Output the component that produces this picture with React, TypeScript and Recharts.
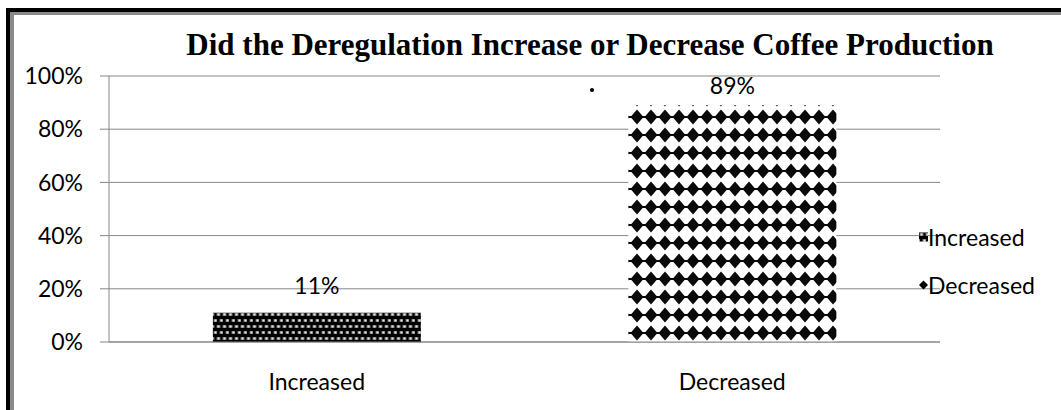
import React from "react";
import {
  Bar,
  BarChart,
  CartesianGrid,
  LabelList,
  XAxis,
  YAxis,
} from "recharts";

const categories = ["Increased", "Decreased"];
const seriesNames = ["Increased", "Decreased"];
const increasedValues = [11, null];
const decreasedValues = [null, 89];
const percentTicks = [0, 20, 40, 60, 80, 100];

const data = categories.map((name, i) => ({
  name,
  Increased: increasedValues[i],
  Decreased: decreasedValues[i],
}));

const GRID = "#868686";
const SANS = "Lato, 'Open Sans', sans-serif";

function Patterns({ prefix }: { prefix: string }) {
  return (
    <defs>
      <pattern id={`${prefix}-checker`} width="6" height="12" patternUnits="userSpaceOnUse">
        <rect width="6" height="12" fill="#000" />
        <rect x="0.5" y="1" width="4" height="3" fill="#6a6a6a" />
        <rect x="1.5" y="1.5" width="2" height="2" fill="#e6e6e6" />
        <rect x="3.5" y="7" width="3" height="3" fill="#6a6a6a" />
        <rect x="0" y="7" width="1" height="3" fill="#6a6a6a" />
        <rect x="4.5" y="7.5" width="1.5" height="2" fill="#e6e6e6" />
        <rect x="0" y="7.5" width="0.5" height="2" fill="#e6e6e6" />
      </pattern>
      <pattern id={`${prefix}-diamond`} width="14" height="18" patternUnits="userSpaceOnUse">
        <rect width="14" height="18" fill="#fff" />
        <polygon points="7,1.5 13.5,9 7,16.5 0.5,9" fill="#0a0a0a" />
        <rect x="0" y="8" width="14" height="2" fill="#0a0a0a" />
      </pattern>
    </defs>
  );
}

// value above the bar, kept clear of the title band
function valueLabel(props: any) {
  const { x, y, width, value } = props;
  if (value === null || value === undefined) return null;
  return (
    <text
      x={x + width / 2}
      y={Math.max(y - 19, 94)}
      textAnchor="middle"
      fontFamily={SANS}
      fontSize={23}
      fill="#000"
    >
      {`${value}%`}
    </text>
  );
}

function SeriesKey() {
  return (
    <div
      style={{
        position: "absolute",
        left: 919,
        top: 213,
        fontFamily: SANS,
        fontSize: 23,
        color: "#000",
      }}
    >
      <svg width="0" height="0" style={{ position: "absolute" }}>
        <Patterns prefix="lg" />
      </svg>
      {seriesNames.map((name) => (
        <div
          key={name}
          style={{ display: "flex", alignItems: "center", height: 48, lineHeight: "48px" }}
        >
          <svg width="9" height="10">
            {name === "Increased" ? (
              <rect width="9" height="9" y="0.5" fill="url(#lg-checker)" />
            ) : (
              <polygon points="4.5,0.5 9,5 4.5,9.5 0,5" fill="#000" />
            )}
          </svg>
          <span>{name}</span>
        </div>
      ))}
    </div>
  );
}

export default function App() {
  return (
    <div
      style={{
        position: "absolute",
        left: 0,
        top: 0,
        width: 1061,
        height: 410,
        background: "#fff",
        overflow: "hidden",
      }}
    >
      <BarChart
        width={1061}
        height={410}
        data={data}
        margin={{ top: 76, right: 121, bottom: 10, left: 0 }}
        barCategoryGap="25%"
        style={{ position: "absolute", left: 0, top: 0 }}
      >
        <Patterns prefix="bar" />
        <CartesianGrid vertical={false} stroke={GRID} strokeWidth={1} />
        <XAxis
          dataKey="name"
          axisLine={{ stroke: GRID }}
          tickLine={false}
          tickMargin={26}
          height={58}
          tick={{ fill: "#000", fontFamily: SANS, fontSize: 23 }}
        />
        <XAxis
          xAxisId="edges"
          type="number"
          domain={[0, 2]}
          ticks={[0, 1, 2]}
          tick={false}
          axisLine={false}
          tickLine={{ stroke: GRID }}
          tickSize={9}
          height={0}
        />
        <YAxis
          width={109}
          domain={[0, 100]}
          ticks={percentTicks}
          tickFormatter={(v: number) => `${v}%`}
          axisLine={{ stroke: GRID }}
          tickLine={{ stroke: GRID }}
          tickSize={9}
          tickMargin={17}
          tick={{ fill: "#000", fontFamily: SANS, fontSize: 23 }}
        />
        <Bar dataKey="Increased" stackId="s" fill="url(#bar-checker)" isAnimationActive={false}>
          <LabelList dataKey="Increased" content={valueLabel} />
        </Bar>
        <Bar dataKey="Decreased" stackId="s" fill="url(#bar-diamond)" isAnimationActive={false}>
          <LabelList dataKey="Decreased" content={valueLabel} />
        </Bar>
        <circle cx={592} cy={90} r={2} fill="#000" />
      </BarChart>

      <SeriesKey />

      <div
        style={{
          position: "absolute",
          left: 0,
          top: 25,
          width: 1180,
          textAlign: "center",
          fontFamily: "'Liberation Serif', 'Times New Roman', serif",
          fontWeight: "bold",
          fontSize: 31,
          lineHeight: "40px",
          color: "#000",
          whiteSpace: "nowrap",
        }}
      >
        Did the Deregulation Increase or Decrease Coffee Production
      </div>

      {/* frame edges */}
      <div style={{ position: "absolute", left: 6, top: 8, width: 4, height: 402, background: "#000" }} />
      <div style={{ position: "absolute", left: 6, top: 8, width: 1055, height: 4, background: "#000" }} />
      <div style={{ position: "absolute", left: 10, top: 12, width: 4, height: 398, background: "#8a8a8a" }} />
      <div style={{ position: "absolute", left: 10, top: 12, width: 1051, height: 3, background: "#8a8a8a" }} />
    </div>
  );
}
